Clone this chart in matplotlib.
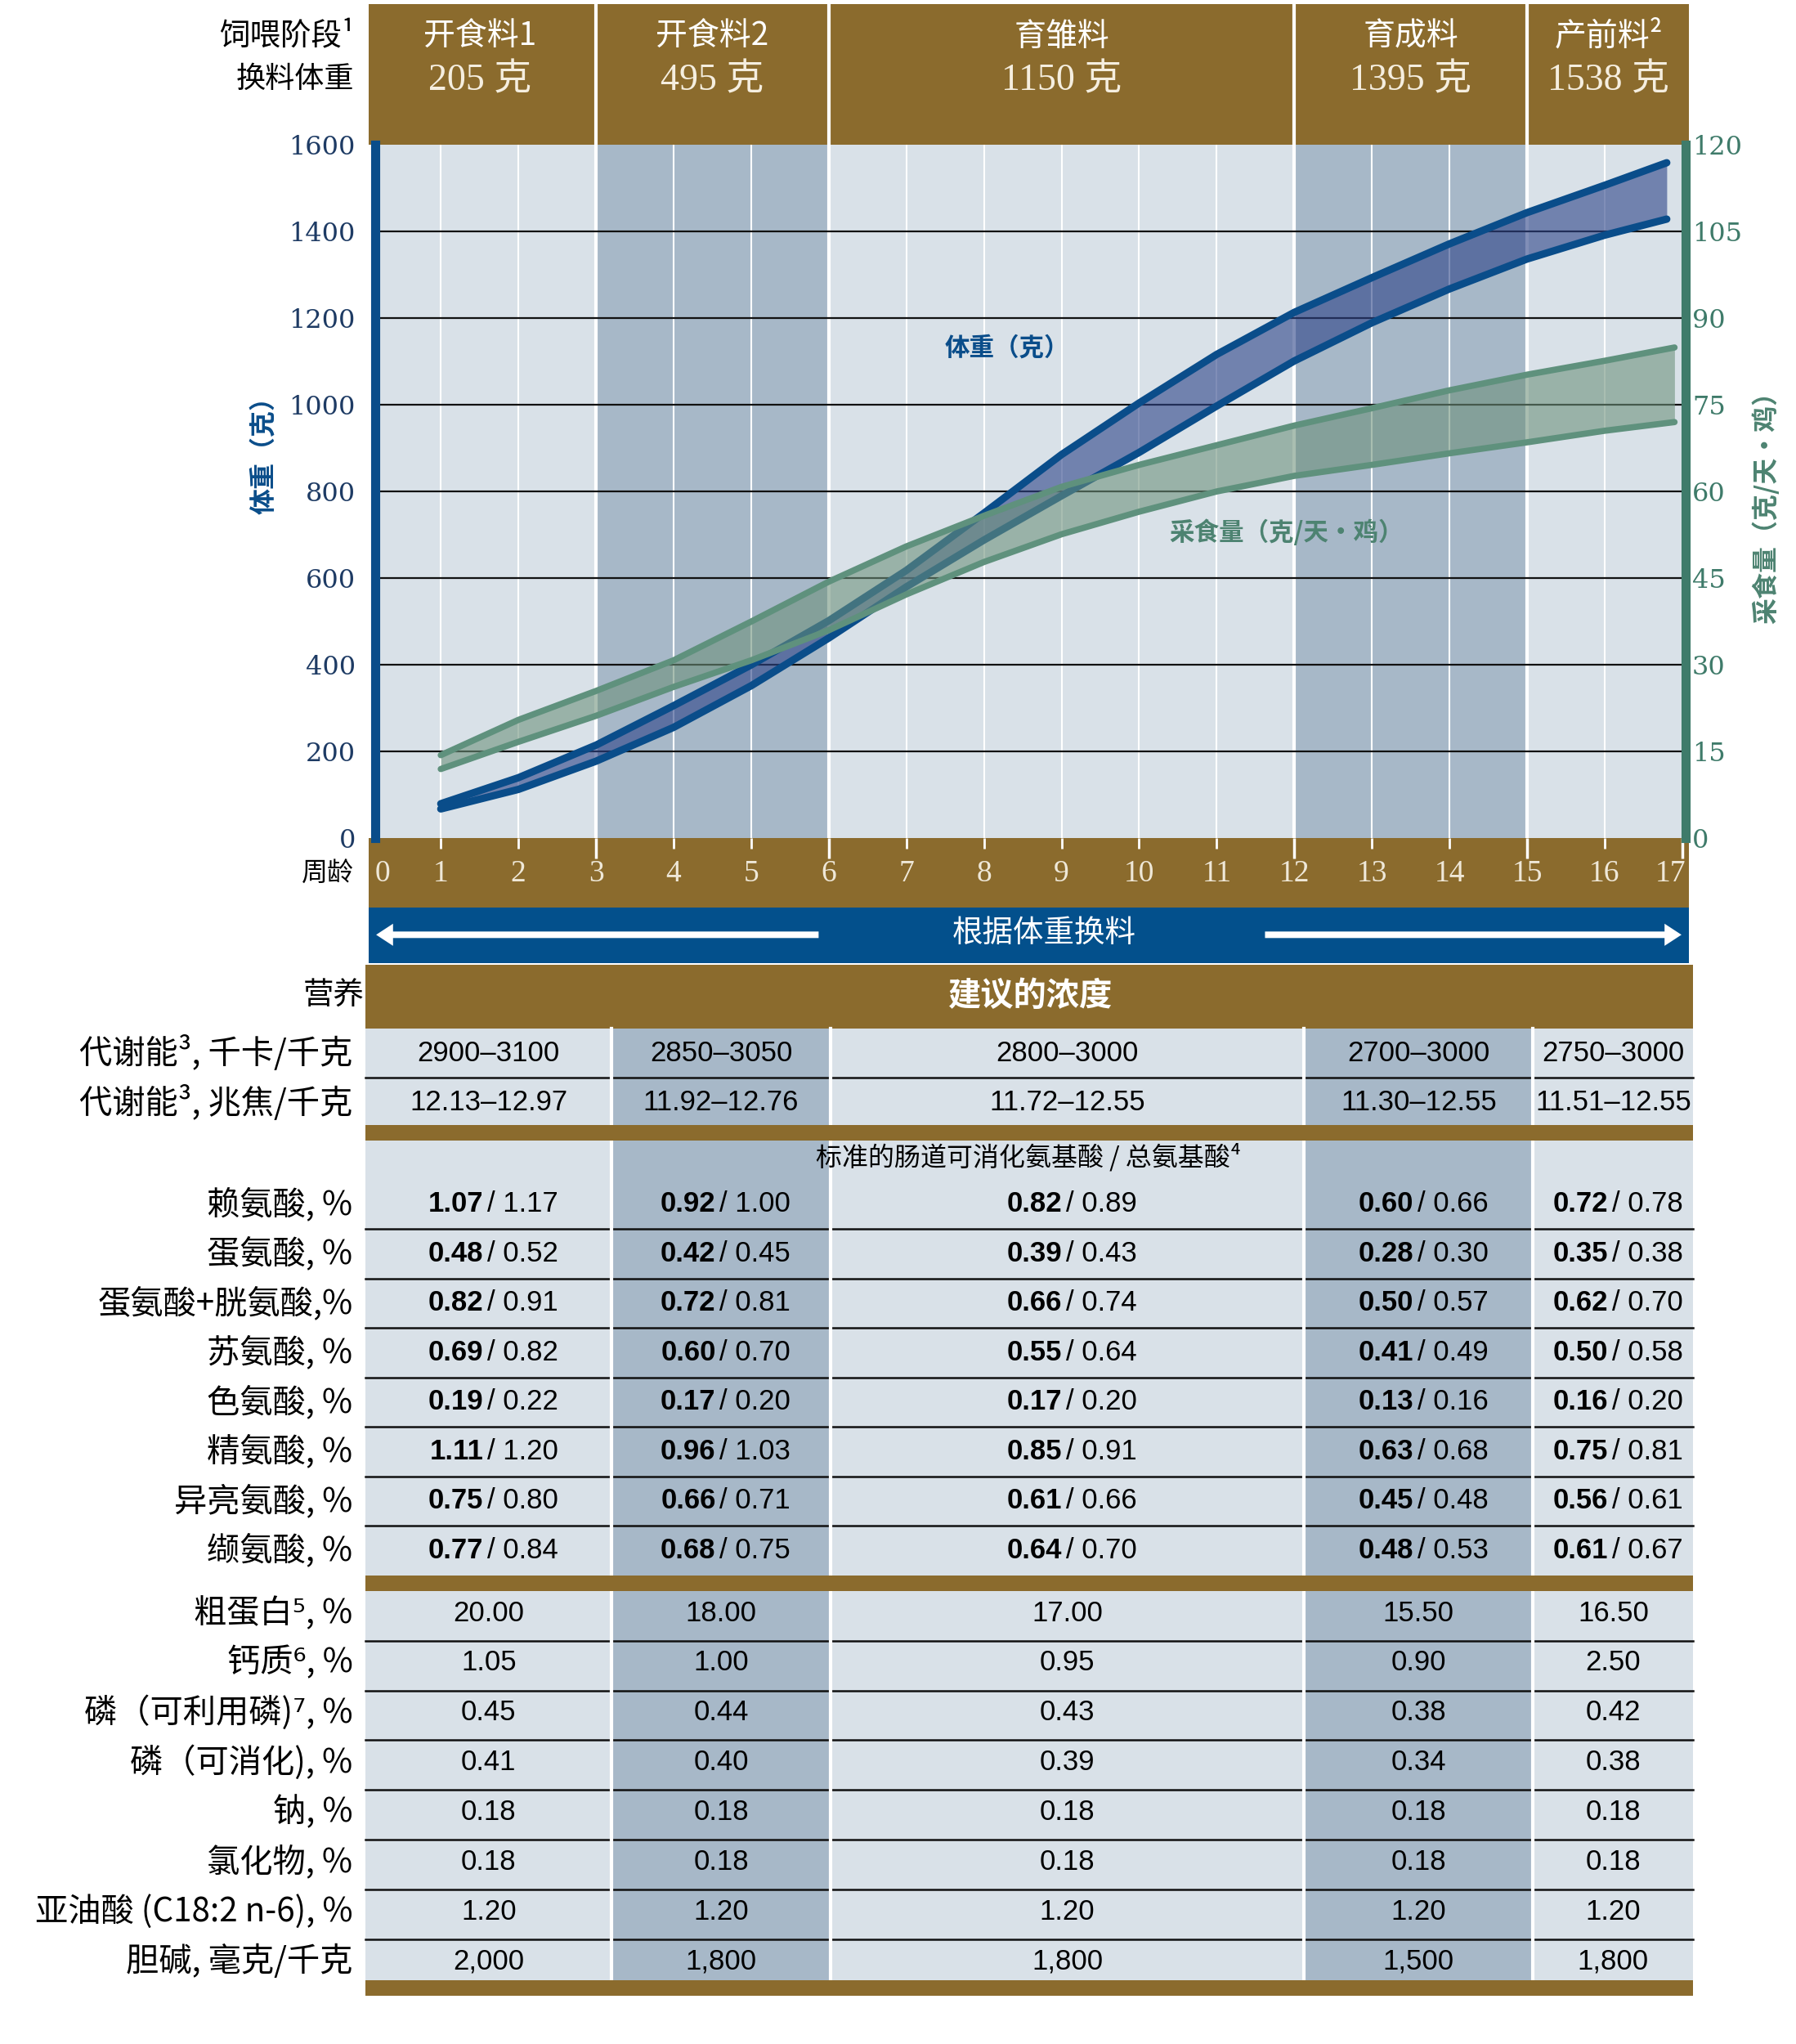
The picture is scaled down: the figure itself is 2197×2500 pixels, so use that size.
import numpy as np
import matplotlib.pyplot as plt
import matplotlib.transforms as mtransforms
from matplotlib.patches import Rectangle, FancyArrow

plt.rcParams['font.family'] = ['Noto Sans CJK SC', 'DejaVu Sans']

# ---- данные графика ----
weeks = list(range(0, 18))
bw_weeks = [1, 2, 3, 4, 5, 6, 7, 8, 9, 10, 11, 12, 13, 14, 15, 16, 16.8]
bw_upper = [80, 140, 215, 306, 400, 502, 618, 750, 885, 1004, 1116, 1213, 1293, 1371, 1443, 1506, 1558]
bw_lower = [68, 113, 178, 256, 352, 462, 580, 688, 790, 890, 997, 1101, 1189, 1267, 1336, 1391, 1428]
feed_weeks = [1, 2, 3, 4, 5, 6, 7, 8, 9, 10, 11, 12, 13, 14, 15, 16, 16.9]
feed_upper = [14.4, 20.5, 25.5, 30.8, 37.5, 44.4, 50.5, 55.8, 60.8, 64.6, 68.0, 71.4, 74.4, 77.5, 80.2, 82.6, 84.9]
feed_lower = [12.0, 16.7, 21.2, 26.2, 30.8, 36.0, 42.2, 47.8, 52.6, 56.5, 60.0, 62.7, 64.6, 66.6, 68.5, 70.5, 72.0]

phase_names = ['开食料1', '开食料2', '育雏料', '育成料', '产前料²']
phase_weights = [205, 495, 1150, 1395, 1538]
phase_bounds = [0, 3, 6, 12, 15, 17.1]

# ---- данные таблицы ----
me_labels = ['代谢能³, 千卡/千克', '代谢能³, 兆焦/千克']
me_values = [['2900–3100', '2850–3050', '2800–3000', '2700–3000', '2750–3000'],
             ['12.13–12.97', '11.92–12.76', '11.72–12.55', '11.30–12.55', '11.51–12.55']]
aa_header = '标准的肠道可消化氨基酸 / 总氨基酸⁴'
aa_labels = ['赖氨酸, %', '蛋氨酸, %', '蛋氨酸+胱氨酸,%', '苏氨酸, %',
             '色氨酸, %', '精氨酸, %', '异亮氨酸, %', '缬氨酸, %']
aa_dig = [['1.07', '0.92', '0.82', '0.60', '0.72'],
          ['0.48', '0.42', '0.39', '0.28', '0.35'],
          ['0.82', '0.72', '0.66', '0.50', '0.62'],
          ['0.69', '0.60', '0.55', '0.41', '0.50'],
          ['0.19', '0.17', '0.17', '0.13', '0.16'],
          ['1.11', '0.96', '0.85', '0.63', '0.75'],
          ['0.75', '0.66', '0.61', '0.45', '0.56'],
          ['0.77', '0.68', '0.64', '0.48', '0.61']]
aa_tot = [['1.17', '1.00', '0.89', '0.66', '0.78'],
          ['0.52', '0.45', '0.43', '0.30', '0.38'],
          ['0.91', '0.81', '0.74', '0.57', '0.70'],
          ['0.82', '0.70', '0.64', '0.49', '0.58'],
          ['0.22', '0.20', '0.20', '0.16', '0.20'],
          ['1.20', '1.03', '0.91', '0.68', '0.81'],
          ['0.80', '0.71', '0.66', '0.48', '0.61'],
          ['0.84', '0.75', '0.70', '0.53', '0.67']]
other_labels = ['粗蛋白⁵, %', '钙质⁶, %', '磷（可利用磷)⁷, %', '磷（可消化), %',
                '钠, %', '氯化物, %', '亚油酸 (C18:2 n-6), %', '胆碱, 毫克/千克']
other_values = [['20.00', '18.00', '17.00', '15.50', '16.50'],
                ['1.05', '1.00', '0.95', '0.90', '2.50'],
                ['0.45', '0.44', '0.43', '0.38', '0.42'],
                ['0.41', '0.40', '0.39', '0.34', '0.38'],
                ['0.18', '0.18', '0.18', '0.18', '0.18'],
                ['0.18', '0.18', '0.18', '0.18', '0.18'],
                ['1.20', '1.20', '1.20', '1.20', '1.20'],
                ['2,000', '1,800', '1,800', '1,500', '1,800']]

# ---- цвета ----
brown = '#8b6b2d'
light = '#d9e1e8'
dark = '#a7b8c8'
navy = '#0a4d8a'
band_blue = '#03508c'
green_line = '#5f917d'
green_spine = '#3f7b6a'
cream = '#f5eedf'
narrow = ['Liberation Sans', 'DejaVu Sans']
serif = ['Liberation Serif', 'Noto Sans CJK SC']

fig = plt.figure(figsize=(21.97, 25), dpi=100)

# холст в координатах "пикселей" (1380 x 1570)
cv = fig.add_axes([0, 0, 1, 1])
cv.set_xlim(0, 1380)
cv.set_ylim(1570, 0)
cv.axis('off')

# основной график
ax = fig.add_axes([288 / 1380, 1 - 644 / 1570, 1007 / 1380, 533 / 1570])
ax2 = ax.twinx()
ax.set_xlim(0.15, 17.04)
ax.set_ylim(0, 1600)
ax2.set_ylim(0, 120)

trans_x = mtransforms.blended_transform_factory(ax.transData, cv.transData)

# шапка
cv.add_patch(Rectangle((283, 3), 1298 - 283, 108, color=brown, lw=0))
for b in phase_bounds[1:-1]:
    cv.plot([b, b], [3, 111], transform=trans_x, color='white', lw=3)
for i, (name, wgt) in enumerate(zip(phase_names, phase_weights)):
    mid = (phase_bounds[i] + phase_bounds[i + 1]) / 2
    cv.text(mid, 28, name, transform=trans_x, ha='center', va='center',
            color='white', fontsize=28)
    cv.text(mid, 62, f'{wgt} 克', transform=trans_x, ha='center', va='center',
            color=cream, fontsize=33, family=serif)
cv.text(272, 28, '饲喂阶段¹', ha='right', va='center', fontsize=27)
cv.text(272, 61, '换料体重', ha='right', va='center', fontsize=26)

# фон графика
ax.set_facecolor(light)
ax.axvspan(3, 6, color=dark, lw=0, zorder=0)
ax.axvspan(12, 15, color=dark, lw=0, zorder=0)
for w in weeks[1:]:
    ax.axvline(w, color='white', lw=3 if w in phase_bounds else 1.5, zorder=1)
for v in range(200, 1600, 200):
    ax.axhline(v, color='#111111', lw=1.6, zorder=2)

# кривые
ax.fill_between(bw_weeks, bw_lower, bw_upper, color='#2c4388', alpha=0.6, lw=0, zorder=3)
ax.plot(bw_weeks, bw_upper, color=navy, lw=6.5, solid_capstyle='round',
        solid_joinstyle='round', zorder=4)
ax.plot(bw_weeks, bw_lower, color=navy, lw=6.5, solid_capstyle='round',
        solid_joinstyle='round', zorder=4)
ax2.fill_between(feed_weeks, feed_lower, feed_upper, color='#6c907a', alpha=0.58, lw=0, zorder=3)
ax2.plot(feed_weeks, feed_upper, color=green_line, lw=5.5, solid_capstyle='round',
         solid_joinstyle='round', zorder=4)
ax2.plot(feed_weeks, feed_lower, color=green_line, lw=5.5, solid_capstyle='round',
         solid_joinstyle='round', zorder=4)

ax.text(8.3, 1130, '体重（克）', color=navy, fontsize=22, fontweight='bold',
        ha='center', va='center', zorder=6)
ax2.text(11.9, 52.9, '采食量（克/天・鸡）', color='#4d8371', fontsize=22,
         fontweight='bold', ha='center', va='center', zorder=6)

# оси
for s in ['top', 'bottom', 'right']:
    ax.spines[s].set_visible(False)
for s in ['top', 'bottom', 'left']:
    ax2.spines[s].set_visible(False)
ax.spines['left'].set_color(navy)
ax.spines['left'].set_linewidth(8)
ax2.spines['right'].set_color(green_spine)
ax2.spines['right'].set_linewidth(8)
ax.set_yticks(range(0, 1601, 200))
ax2.set_yticks(range(0, 121, 15))
ax.tick_params(axis='y', length=0, pad=17, labelsize=23, labelcolor='#1e3b64',
               labelfontfamily='DejaVu Serif')
ax2.tick_params(axis='y', length=0, pad=6, labelsize=23, labelcolor=green_spine,
                labelfontfamily='DejaVu Serif')
ax.set_xticks([3, 6, 12, 15, 17])
ax.set_xticks([w for w in weeks[1:] if w not in (3, 6, 12, 15, 17)], minor=True)
ax.tick_params(axis='x', which='major', direction='out', length=18, width=2.5,
               color='white', labelbottom=False)
ax.tick_params(axis='x', which='minor', direction='out', length=9, width=2,
               color='white', labelbottom=False)

cv.text(203, 345, '体重（克）', rotation=90, ha='center', va='center',
        color=navy, fontsize=23, fontweight='bold')
cv.text(1357, 385, '采食量（克/天・鸡）', rotation=90, ha='center', va='center',
        color='#4d8371', fontsize=23, fontweight='bold')

# полоса с неделями
cv.add_patch(Rectangle((283, 644), 1298 - 283, 53, color=brown, lw=0))
for w in weeks:
    cv.text(min(max(w, 0.25), 16.85), 671, str(w), transform=trans_x, ha='center',
            va='center', color='#efe8d8', fontsize=27, family=serif)
cv.text(272, 671, '周龄', ha='right', va='center', fontsize=23)

# синяя полоса со стрелками
cv.add_patch(Rectangle((283, 697), 1298 - 283, 43, color=band_blue, lw=0))
cv.add_patch(FancyArrow(629, 718, 289 - 629, 0, width=5, head_width=17, head_length=13,
                        length_includes_head=True, color='white', lw=0))
cv.add_patch(FancyArrow(972, 718, 1292 - 972, 0, width=5, head_width=17, head_length=13,
                        length_includes_head=True, color='white', lw=0))
cv.text(802, 717, '根据体重换料', ha='center', va='center', color='white', fontsize=27)

# заголовок таблицы
cv.add_patch(Rectangle((281, 741), 1301 - 281, 49, color=brown, lw=0))
cv.text(792, 765, '建议的浓度', ha='center', va='center', color='white',
        fontsize=29, fontweight='bold')
cv.text(280, 765, '营养', ha='right', va='center', fontsize=27)

# таблица
col_edges = [281, 470, 638, 1002, 1178, 1301]
col_fill = [light, dark, light, dark, light]
col_mid = [(col_edges[i] + col_edges[i + 1]) / 2 for i in range(5)]
t_top, t_bot = 790, 1521
for i in range(5):
    cv.add_patch(Rectangle((col_edges[i], t_top), col_edges[i + 1] - col_edges[i],
                           t_bot - t_top, color=col_fill[i], lw=0, zorder=1))

aa_top, aa_h = 906, 38.0
ot_top, ot_h = 1222, 38.2
hlines = [828] + [aa_top + k * aa_h for k in range(1, 8)] + [ot_top + k * ot_h for k in range(1, 8)]
for y in hlines:
    cv.plot([col_edges[0], col_edges[-1]], [y, y], color='#111111', lw=1.8, zorder=2)
for x in col_edges[1:-1]:
    cv.plot([x, x], [t_top, t_bot], color='white', lw=3, zorder=3)
for y0, y1 in [(864, 876), (1210, 1222), (1521, 1533)]:
    cv.add_patch(Rectangle((281, y0), 1301 - 281, y1 - y0, color=brown, lw=0, zorder=4))

label_x = 271
vsize = 25
# энергия
for r, (lab, vals) in enumerate(zip(me_labels, me_values)):
    y = [809, 847][r]
    cv.text(label_x, y, lab, ha='right', va='center', fontsize=29)
    for i, v in enumerate(vals):
        cv.text(col_mid[i], y, v, ha='center', va='center', fontsize=vsize,
                family=narrow, zorder=5)

cv.text(790, 889, aa_header, ha='center', va='center', fontsize=23, zorder=5)

# аминокислоты
for r, lab in enumerate(aa_labels):
    y = aa_top + (r + 0.5) * aa_h
    cv.text(label_x, y, lab, ha='right', va='center', fontsize=29)
    for i in range(5):
        cx = col_mid[i]
        cv.text(cx - 4, y, aa_dig[r][i], ha='right', va='center', fontsize=vsize,
                family=narrow, fontweight='bold', zorder=5)
        cv.text(cx - 1, y, '/ ' + aa_tot[r][i], ha='left', va='center', fontsize=vsize,
                family=narrow, zorder=5)

# прочие показатели
for r, (lab, vals) in enumerate(zip(other_labels, other_values)):
    y = ot_top + (r + 0.5) * ot_h - 2
    cv.text(label_x, y, lab, ha='right', va='center', fontsize=29)
    for i, v in enumerate(vals):
        cv.text(col_mid[i], y, v, ha='center', va='center', fontsize=vsize,
                family=narrow, zorder=5)

fig.savefig('out.png', dpi=100)
